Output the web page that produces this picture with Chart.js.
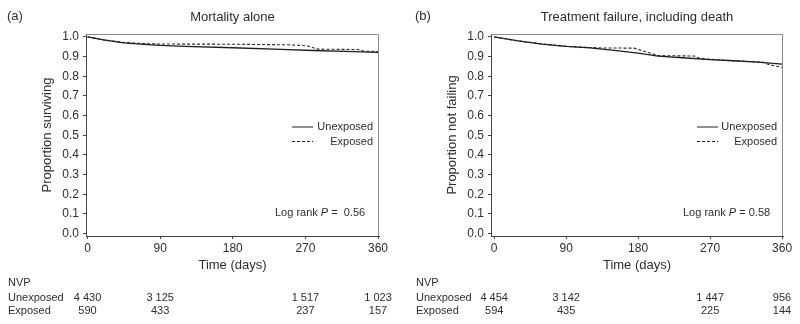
<!DOCTYPE html>
<html>
<head>
<meta charset="utf-8">
<script src="https://cdn.jsdelivr.net/npm/chart.js@4.4.1/dist/chart.umd.min.js"></script>
<style>
  html, body { margin: 0; padding: 0; background: #fff; }
  .panel { position: absolute; top: 0; width: 400px; height: 324px; }
</style>
</head>
<body>
<div class="panel" style="left:0"><canvas id="chartA" width="400" height="324"></canvas></div>
<div class="panel" style="left:400px"><canvas id="chartB" width="400" height="324"></canvas></div>
<script>
// Axis ticks
const xTicks = [0, 90, 180, 270, 360];
const yTicks = [0, 0.1, 0.2, 0.3, 0.4, 0.5, 0.6, 0.7, 0.8, 0.9, 1.0];

// (a) Mortality alone - curves
const mortUnexpDays = [0, 20, 45, 70, 90, 120, 180, 240, 280, 320, 360];
const mortUnexpVals = [1.0, 0.985, 0.970, 0.962, 0.957, 0.952, 0.945, 0.937, 0.931, 0.927, 0.922];
const mortExpDays = [0, 20, 45, 70, 90, 180, 250, 272, 285, 335, 342, 360];
const mortExpVals = [1.0, 0.985, 0.972, 0.966, 0.964, 0.963, 0.960, 0.955, 0.938, 0.936, 0.928, 0.925];

// (b) Treatment failure, including death
const failUnexpDays = [0, 30, 60, 90, 120, 150, 180, 205, 240, 270, 300, 330, 360];
const failUnexpVals = [1.0, 0.980, 0.964, 0.952, 0.944, 0.932, 0.918, 0.902, 0.893, 0.885, 0.879, 0.872, 0.862];
const failExpDays = [0, 30, 60, 90, 120, 135, 175, 205, 250, 258, 300, 335, 345, 360];
const failExpVals = [1.0, 0.980, 0.964, 0.952, 0.946, 0.944, 0.943, 0.905, 0.903, 0.890, 0.878, 0.872, 0.858, 0.845];

// Numbers at risk (NVP)
const riskDays = [0, 90, 270, 360];
const mortRiskUnexp = [4430, 3125, 1517, 1023];
const mortRiskExp = [590, 433, 237, 157];
const failRiskUnexp = [4454, 3142, 1447, 956];
const failRiskExp = [594, 435, 225, 144];

const FONT = "'Liberation Sans', Arial, sans-serif";
const TEXT = "#2e2e2e";

function fmt(n) {
  const s = String(n);
  return s.length > 3 ? s.slice(0, -3) + " " + s.slice(-3) : s;
}

function toPoints(days, vals) {
  return days.map((d, i) => ({ x: d, y: vals[i] }));
}

// draws frame, titles, legend, p-value and the at-risk table
const extrasPlugin = {
  id: "extras",
  beforeDatasetsDraw(chart) {
    const { ctx, chartArea: a } = chart;
    ctx.save();
    ctx.strokeStyle = "#8c8c8c";
    ctx.lineWidth = 1;
    ctx.beginPath();
    ctx.moveTo(a.left, a.top + 0.5);
    ctx.lineTo(a.right - 0.5, a.top + 0.5);
    ctx.lineTo(a.right - 0.5, a.bottom);
    ctx.stroke();
    ctx.restore();
  },
  afterDraw(chart, args, o) {
    const { ctx, chartArea: a } = chart;
    const xs = chart.scales.x;
    ctx.save();
    ctx.fillStyle = TEXT;
    ctx.textBaseline = "middle";

    // panel label and title
    ctx.font = "13px " + FONT;
    ctx.textAlign = "left";
    ctx.fillText(o.label, o.labelX, 16);
    ctx.textAlign = "center";
    ctx.fillText(o.title, (a.left + a.right) / 2, 17);

    // legend
    ctx.font = "11px " + FONT;
    ctx.strokeStyle = "#222";
    ctx.lineWidth = 1;
    ctx.beginPath();
    ctx.moveTo(o.legX, 127);
    ctx.lineTo(o.legX + 21, 127);
    ctx.stroke();
    ctx.setLineDash([3, 2]);
    ctx.beginPath();
    ctx.moveTo(o.legX, 141.5);
    ctx.lineTo(o.legX + 21, 141.5);
    ctx.stroke();
    ctx.setLineDash([]);
    ctx.textAlign = "right";
    ctx.fillText("Unexposed", o.legTextX, 127);
    ctx.fillText("Exposed", o.legTextX, 142);

    // log rank
    ctx.textAlign = "left";
    let x = o.pX;
    const part1 = "Log rank ";
    ctx.fillText(part1, x, 213);
    x += ctx.measureText(part1).width;
    ctx.font = "italic 11px " + FONT;
    ctx.fillText("P", x, 213);
    x += ctx.measureText("P").width;
    ctx.font = "11px " + FONT;
    ctx.fillText(o.pText, x, 213);

    // numbers at risk
    ctx.textAlign = "left";
    ctx.fillText("NVP", o.labelX + 1, 283);
    ctx.fillText("Unexposed", o.labelX + 1, 297.5);
    ctx.fillText("Exposed", o.labelX + 1, 311);
    ctx.textAlign = "center";
    riskDays.forEach((d, i) => {
      const px = xs.getPixelForValue(d);
      ctx.fillText(fmt(o.riskUnexp[i]), px, 297.5);
      ctx.fillText(fmt(o.riskExp[i]), px, 311);
    });
    ctx.restore();
  },
};

function makeChart(id, cfg) {
  return new Chart(document.getElementById(id), {
    type: "scatter",
    data: {
      datasets: [
        {
          label: "Unexposed",
          data: toPoints(cfg.unexpDays, cfg.unexpVals),
          showLine: true,
          borderColor: "#1e1e1e",
          borderWidth: 1.3,
          pointRadius: 0,
          tension: 0,
        },
        {
          label: "Exposed",
          data: toPoints(cfg.expDays, cfg.expVals),
          showLine: true,
          borderColor: "#2a2a2a",
          borderWidth: 1.1,
          borderDash: [3, 2],
          pointRadius: 0,
          tension: 0,
        },
      ],
    },
    options: {
      responsive: false,
      animation: false,
      devicePixelRatio: 1,
      layout: { padding: { top: 34, right: cfg.padRight, bottom: 0, left: 0 } },
      plugins: {
        legend: { display: false },
        tooltip: { enabled: false },
        extras: cfg.extras,
      },
      scales: {
        x: {
          type: "linear",
          min: cfg.xMin,
          max: cfg.xMax,
          afterFit: (s) => { s.height = 88; },
          afterBuildTicks: (s) => { s.ticks = xTicks.map((v) => ({ value: v })); },
          grid: { drawOnChartArea: false, drawTicks: true, tickLength: 3, color: "#444" },
          border: { display: true, color: "#444", width: 1 },
          ticks: { color: TEXT, padding: 2, font: { family: FONT, size: 12 }, maxRotation: 0 },
          title: {
            display: true,
            text: "Time (days)",
            color: TEXT,
            font: { family: FONT, size: 13 },
            padding: { top: 0, bottom: 51 },
          },
        },
        y: {
          type: "linear",
          min: -0.0127,
          max: 1.015,
          afterFit: (s) => { s.width = cfg.axisWidth; },
          afterBuildTicks: (s) => { s.ticks = yTicks.map((v) => ({ value: v })); },
          grid: { drawOnChartArea: false, drawTicks: true, tickLength: 3, color: "#444" },
          border: { display: true, color: "#444", width: 1 },
          ticks: {
            color: TEXT,
            padding: 4,
            font: { family: FONT, size: 12 },
            callback: (v) => Number(v).toFixed(1),
          },
          title: {
            display: true,
            text: cfg.yTitle,
            color: TEXT,
            font: { family: FONT, size: 13 },
            padding: { top: cfg.yTitlePad, bottom: 0 },
          },
        },
      },
    },
    plugins: [extrasPlugin],
  });
}

makeChart("chartA", {
  unexpDays: mortUnexpDays, unexpVals: mortUnexpVals,
  expDays: mortExpDays, expVals: mortExpVals,
  yTitle: "Proportion surviving",
  axisWidth: 86, padRight: 21, xMin: -1.9, xMax: 361.2, yTitlePad: 39.5,
  extras: {
    label: "(a)", labelX: 7, title: "Mortality alone",
    legX: 292, legTextX: 373, pX: 275, pText: " =  0.56",
    riskUnexp: mortRiskUnexp, riskExp: mortRiskExp,
  },
});

makeChart("chartB", {
  unexpDays: failUnexpDays, unexpVals: failUnexpVals,
  expDays: failExpDays, expVals: failExpVals,
  yTitle: "Proportion not failing",
  axisWidth: 91, padRight: 17, xMin: -4, xMax: 361.2, yTitlePad: 44.5,
  extras: {
    label: "(b)", labelX: 15, title: "Treatment failure, including death",
    legX: 297, legTextX: 377, pX: 283, pText: " = 0.58",
    riskUnexp: failRiskUnexp, riskExp: failRiskExp,
  },
});
</script>
</body>
</html>
